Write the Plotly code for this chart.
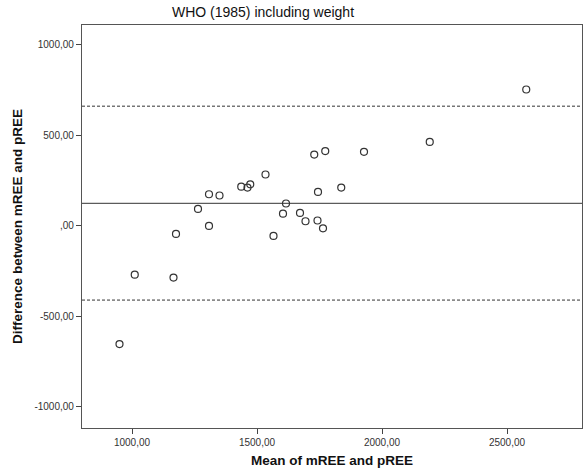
import plotly.graph_objects as go

mean_x = [950, 1011, 1166, 1176, 1264, 1308, 1308, 1350, 1437, 1462, 1473, 1534, 1566,
          1604, 1616, 1672, 1694, 1729, 1742, 1744, 1764, 1773, 1837, 1928, 2191, 2577]
diff_y = [-653, -270, -286, -45, 93, 174, -1, 167, 216, 211, 229, 283, -56,
          67, 123, 71, 25, 393, 29, 187, -14, 412, 211, 408, 463, 752]

mean_diff = 124
upper_loa = 660
lower_loa = -410

x_ticks = [1000, 1500, 2000, 2500]
x_tick_text = ["1000,00", "1500,00", "2000,00", "2500,00"]
y_ticks = [-1000, -500, 0, 500, 1000]
y_tick_text = ["-1000,00", "-500,00", ",00", "500,00", "1000,00"]

title_text = "WHO (1985) including weight"
x_title = "Mean of mREE and pREE"
y_title = "Difference between mREE and pREE"

FONT = "Liberation Sans, Arial"

fig = go.Figure()
fig.add_trace(go.Scatter(
    x=mean_x, y=diff_y, mode="markers",
    marker=dict(symbol="circle-open", size=7, color="#333333", line=dict(width=1.2, color="#333333")),
    showlegend=False, hoverinfo="x+y"))

for val, dash in [(mean_diff, "solid"), (upper_loa, "3px,2px"), (lower_loa, "3px,2px")]:
    fig.add_shape(type="line", xref="paper", yref="y", x0=0, x1=1, y0=val, y1=val,
                  line=dict(color="#333333", width=1, dash=dash))

axis_common = dict(showgrid=False, zeroline=False, showline=True, linecolor="#555555",
                   linewidth=1.2, mirror=True, ticks="outside", ticklen=5, tickcolor="#444444",
                   automargin=False,
                   tickfont=dict(family=FONT, size=10, color="#333333"))

fig.update_xaxes(range=[800, 2800], tickvals=x_ticks, ticktext=x_tick_text,
                 title=dict(text="<b>" + x_title + "</b>", standoff=8,
                            font=dict(family=FONT, size=13.5, color="#111111")),
                 **axis_common)
fig.update_yaxes(range=[-1116, 1108], tickvals=y_ticks, ticktext=y_tick_text,
                 title=dict(text="<b>" + y_title + "</b>", standoff=8,
                            font=dict(family=FONT, size=13.5, color="#111111")),
                 **axis_common)

fig.update_layout(
    width=583, height=475,
    margin=dict(l=82, r=1, t=25, b=47, autoexpand=False),
    plot_bgcolor="white", paper_bgcolor="white",
    title=dict(text=title_text, x=263 / 583, xanchor="center", y=1 - 12 / 475, yanchor="middle",
               font=dict(family=FONT, size=14, color="#111111")),
)

fig.write_html("out.html", config={"displayModeBar": False},
               post_script="document.body.style.margin='0';document.body.style.overflow='hidden';")
